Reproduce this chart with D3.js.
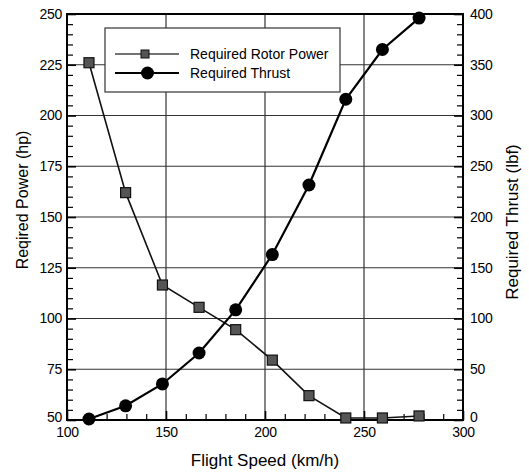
<!DOCTYPE html>
<html>
<head>
<meta charset="utf-8">
<script src="https://cdn.jsdelivr.net/npm/d3@7"></script>
<style>
  html, body { margin: 0; padding: 0; background: #fff; }
  svg { display: block; font-family: "Liberation Sans", Arial, sans-serif; }
</style>
</head>
<body>
<svg id="chart" width="529" height="473"></svg>
<script>
// Flight speed (km/h) at each test condition
const speed = [111.1, 129.6, 148.2, 166.7, 185.2, 203.7, 222.2, 240.8, 259.3, 277.8];
// Required rotor power (hp)
const power = [226, 162, 116.5, 105.5, 94.5, 79.5, 62, 51, 51, 52];
// Required thrust (lbf)
const thrust = [1, 14, 35.5, 66, 108.5, 163, 231.5, 316, 365, 396];

const xTicks = [100, 150, 200, 250, 300];
const powerTicks = [50, 75, 100, 125, 150, 175, 200, 225, 250];
const thrustTicks = [0, 50, 100, 150, 200, 250, 300, 350, 400];

const seriesNames = ["Required Rotor Power", "Required Thrust"];

const svg = d3.select("#chart");
const L = 67, R = 463, T = 14, B = 420;

const x = d3.scaleLinear().domain([100, 300]).range([L, R]);
const yL = d3.scaleLinear().domain([50, 250]).range([B, T]);
const yR = d3.scaleLinear().domain([0, 400]).range([B, T]);

const gridColor = "#333";

// grid lines
const grid = svg.append("g");
grid.selectAll("line.h").data(powerTicks.slice(1, -1)).join("line")
  .attr("x1", L).attr("x2", R)
  .attr("y1", d => yL(d)).attr("y2", d => yL(d))
  .attr("stroke", gridColor).attr("stroke-width", 1.2);
grid.selectAll("line.v").data(xTicks.slice(1, -1)).join("line")
  .attr("y1", T).attr("y2", B)
  .attr("x1", d => x(d)).attr("x2", d => x(d))
  .attr("stroke", gridColor).attr("stroke-width", 1.2);

// minor ticks (inward)
const minorLeft = d3.range(50, 251, 5).filter(v => v % 25 !== 0);
const minorRight = d3.range(0, 401, 10).filter(v => v % 50 !== 0);
const minorBottom = d3.range(100, 301, 10).filter(v => v % 50 !== 0);

svg.append("g").attr("transform", `translate(${L},0)`)
  .call(d3.axisLeft(yL).tickValues(minorLeft).tickSize(-6).tickFormat(""))
  .call(g => g.select(".domain").remove())
  .selectAll("line").attr("stroke", "#000").attr("stroke-width", 1.2);
svg.append("g").attr("transform", `translate(${R},0)`)
  .call(d3.axisRight(yR).tickValues(minorRight).tickSize(-6).tickFormat(""))
  .call(g => g.select(".domain").remove())
  .selectAll("line").attr("stroke", "#000").attr("stroke-width", 1.2);
svg.append("g").attr("transform", `translate(0,${B})`)
  .call(d3.axisBottom(x).tickValues(minorBottom).tickSize(-6).tickFormat(""))
  .call(g => g.select(".domain").remove())
  .selectAll("line").attr("stroke", "#000").attr("stroke-width", 1.2);

// major axes
const axL = svg.append("g").attr("transform", `translate(${L},0)`)
  .call(d3.axisLeft(yL).tickValues(powerTicks).tickSize(-9).tickPadding(5));
const axR = svg.append("g").attr("transform", `translate(${R},0)`)
  .call(d3.axisRight(yR).tickValues(thrustTicks).tickSize(-9).tickPadding(7));
const axB = svg.append("g").attr("transform", `translate(0,${B})`)
  .call(d3.axisBottom(x).tickValues(xTicks).tickSize(-9).tickPadding(7));
[axL, axR, axB].forEach(a => {
  a.select(".domain").remove();
  a.selectAll("line").attr("stroke", "#000").attr("stroke-width", 1.6);
  a.selectAll("text").attr("fill", "#000").style("font-size", "14px")
    .style("font-family", "'Liberation Sans', Arial, sans-serif").attr("letter-spacing", "-0.3");
});
// lowest labels of the vertical axes sit slightly above the corner
axL.selectAll(".tick text").filter(d => d === 50).attr("dy", "0.1em");
axR.selectAll(".tick text").filter(d => d === 0).attr("dy", "0.1em");

// frame
svg.append("rect").attr("x", L).attr("y", T).attr("width", R - L).attr("height", B - T)
  .attr("fill", "none").attr("stroke", "#000").attr("stroke-width", 2);

// legend
const lg = svg.append("g");
lg.append("rect").attr("x", 105).attr("y", 28).attr("width", 235).attr("height", 64)
  .attr("fill", "#fff").attr("stroke", "#333").attr("stroke-width", 1.2);
lg.append("line").attr("x1", 115).attr("x2", 179).attr("y1", 54).attr("y2", 54)
  .attr("stroke", "#444").attr("stroke-width", 1.4);
lg.append("rect").attr("x", 141).attr("y", 50).attr("width", 8).attr("height", 8)
  .attr("fill", "#555").attr("stroke", "#111").attr("stroke-width", 1);
lg.append("line").attr("x1", 115).attr("x2", 179).attr("y1", 73).attr("y2", 73)
  .attr("stroke", "#000").attr("stroke-width", 2);
lg.append("circle").attr("cx", 147.5).attr("cy", 73).attr("r", 6.5).attr("fill", "#000");
lg.selectAll("text").data(seriesNames).join("text")
  .attr("x", 190).attr("y", (d, i) => i === 0 ? 54 : 73).attr("dy", "0.35em")
  .style("font-size", "14px").attr("fill", "#000").text(d => d);

// power series
const pts = speed.map((s, i) => ({ s, p: power[i], t: thrust[i] }));
svg.append("path").datum(pts)
  .attr("d", d3.line().x(d => x(d.s)).y(d => yL(d.p)))
  .attr("fill", "none").attr("stroke", "#111").attr("stroke-width", 1.6);
svg.append("g").selectAll("rect").data(pts).join("rect")
  .attr("x", d => x(d.s) - 5).attr("y", d => yL(d.p) - 5)
  .attr("width", 10).attr("height", 10)
  .attr("fill", "#555").attr("stroke", "#111").attr("stroke-width", 1.2);

// thrust series
svg.append("path").datum(pts)
  .attr("d", d3.line().x(d => x(d.s)).y(d => yR(d.t)))
  .attr("fill", "none").attr("stroke", "#000").attr("stroke-width", 2.2);
svg.append("g").selectAll("circle").data(pts).join("circle")
  .attr("cx", d => x(d.s)).attr("cy", d => yR(d.t)).attr("r", 6.5).attr("fill", "#000");

// axis titles
svg.append("text").attr("transform", `translate(22,200) rotate(-90)`)
  .attr("text-anchor", "middle").attr("dy", "0.35em").style("font-size", "16px")
  .attr("fill", "#000").text("Reqired Power (hp)");
svg.append("text").attr("transform", `translate(512,222) rotate(-90)`)
  .attr("text-anchor", "middle").attr("dy", "0.35em").style("font-size", "17px")
  .attr("fill", "#000").text("Required Thrust (lbf)");
svg.append("text").attr("x", 265).attr("y", 460).attr("dy", "0.35em")
  .attr("text-anchor", "middle").style("font-size", "17px").attr("fill", "#000")
  .text("Flight Speed (km/h)");
</script>
</body>
</html>
